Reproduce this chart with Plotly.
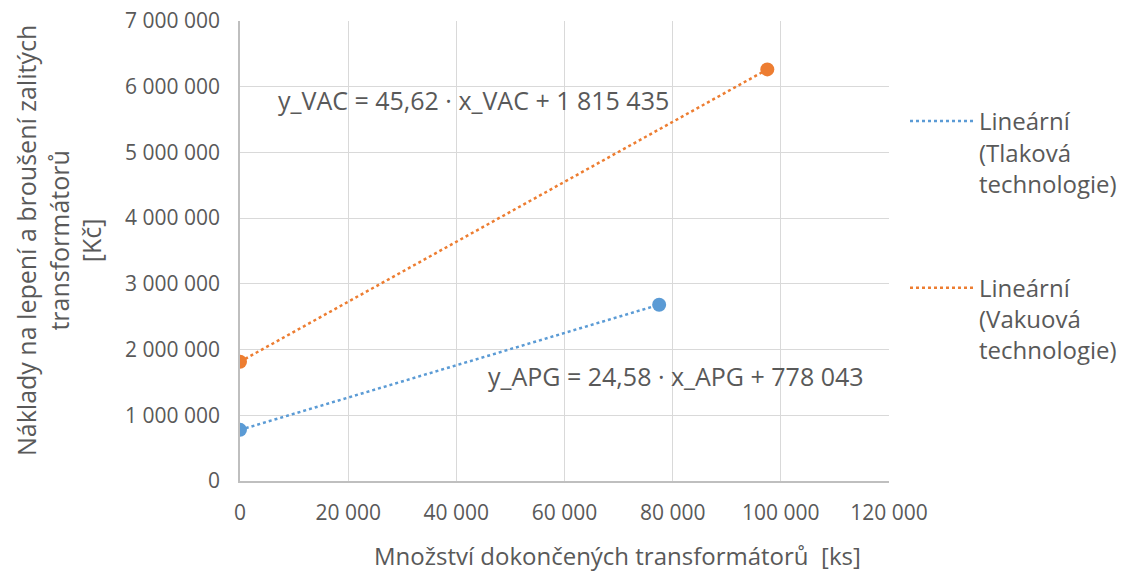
import plotly.graph_objects as go

# Data
apg_x = [0, 77500]
apg_y = [778043, 2682993]
vac_x = [0, 97500]
vac_y = [1815435, 6263385]
x_ticks = [0, 20000, 40000, 60000, 80000, 100000, 120000]
y_ticks = [0, 1000000, 2000000, 3000000, 4000000, 5000000, 6000000, 7000000]
legend_apg = "Lineární<br>(Tlaková<br>technologie)"
legend_vac = "Lineární<br>(Vakuová<br>technologie)"
eq_vac = "y_VAC = 45,62 · x_VAC + 1 815 435"
eq_apg = "y_APG = 24,58 · x_APG + 778 043"

BLUE = "#5B9BD5"
ORANGE = "#ED7D31"
TXT = "#595959"
FONT = "Open Sans"

fig = go.Figure()
fig.add_trace(go.Scatter(x=apg_x, y=apg_y, mode="lines", name=legend_apg,
                         line=dict(color=BLUE, width=2.5, dash="dot"),
                         legendgroup="a"))
fig.add_trace(go.Scatter(x=vac_x, y=vac_y, mode="lines", name=legend_vac,
                         line=dict(color=ORANGE, width=2.5, dash="dot"),
                         legendgroup="b"))
fig.add_trace(go.Scatter(x=apg_x, y=apg_y, mode="markers", showlegend=False,
                         marker=dict(color=BLUE, size=14)))
fig.add_trace(go.Scatter(x=vac_x, y=vac_y, mode="markers", showlegend=False,
                         marker=dict(color=ORANGE, size=14)))

fig.update_layout(
    width=1126, height=572,
    margin=dict(l=240, r=237, t=21, b=91, autoexpand=False),
    paper_bgcolor="white", plot_bgcolor="white",
    separators=", ",
    font=dict(family=FONT, color=TXT, size=21),
    legend=dict(x=1.0 + 16 / 649, xanchor="left", y=(481 - 99) / 460, yanchor="top",
                font=dict(size=24, color=TXT), tracegroupgap=70,
                traceorder="grouped", itemwidth=64, valign="top"),
    showlegend=True,
)
fig.update_xaxes(range=[0, 120000], tickvals=x_ticks, tickformat=",d",
                 showgrid=True, gridcolor="#D9D9D9", gridwidth=1,
                 showline=True, linecolor="#BFBFBF", linewidth=1.5,
                 zeroline=False, ticks="", ticklabelstandoff=12,
                 tickfont=dict(size=21, color=TXT))
fig.update_yaxes(range=[0, 7000000], tickvals=y_ticks, tickformat=",d",
                 showgrid=True, gridcolor="#D9D9D9", gridwidth=1,
                 showline=True, linecolor="#BFBFBF", linewidth=1.5,
                 zeroline=False, ticks="", ticklabelstandoff=14,
                 tickfont=dict(size=21, color=TXT))

fig.add_annotation(xref="paper", yref="paper", x=(617 - 240) / 649, y=(481 - 555) / 460,
                   text="Množství dokončených transformátorů  [ks]", showarrow=False,
                   font=dict(size=24, color=TXT), xanchor="center", yanchor="middle")
fig.add_annotation(xref="paper", yref="paper", x=(58 - 240) / 649, y=(481 - 241) / 460,
                   text="Náklady na lepení a broušení zalitých<br>transformátorů<br>[Kč]",
                   showarrow=False, textangle=-90,
                   font=dict(size=25, color=TXT), xanchor="center", yanchor="middle")
fig.add_annotation(xref="paper", yref="paper", x=(276 - 240) / 649, y=(481 - 100) / 460,
                   text=eq_vac, showarrow=False, font=dict(size=25, color=TXT),
                   xanchor="left", yanchor="middle")
fig.add_annotation(xref="paper", yref="paper", x=(486 - 240) / 649, y=(481 - 376) / 460,
                   text=eq_apg, showarrow=False, font=dict(size=25, color=TXT),
                   xanchor="left", yanchor="middle")

fig.write_html("out.html")
